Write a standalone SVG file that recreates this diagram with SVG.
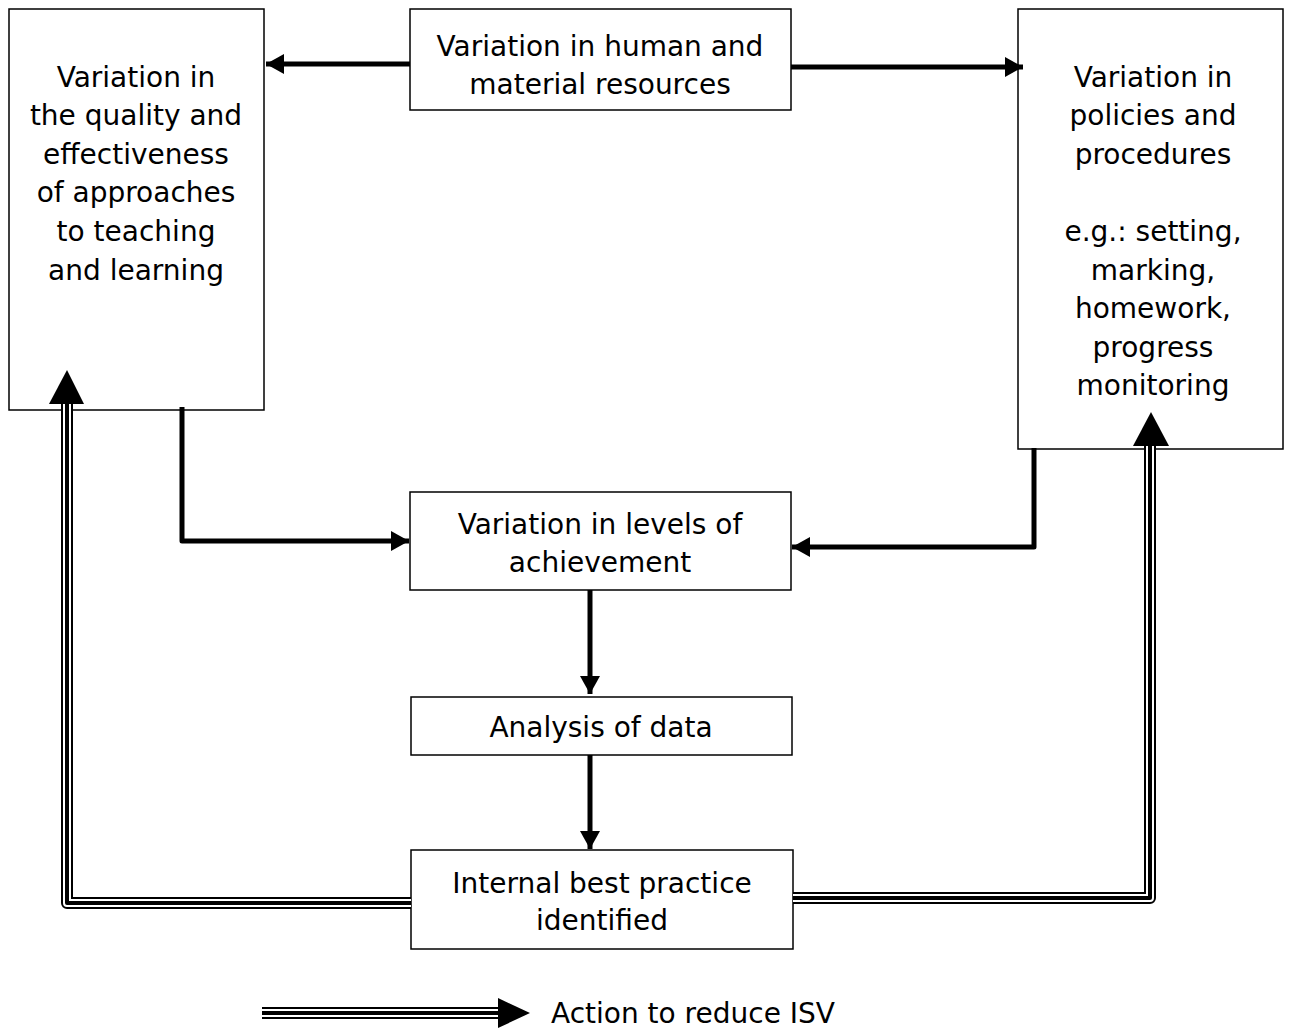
<svg xmlns="http://www.w3.org/2000/svg" width="1290" height="1029" viewBox="0 0 1290 1029">
<defs>
<style>
.box{fill:#fff;stroke:#000;stroke-width:1.5}
.t{font-family:"DejaVu Sans",Verdana,sans-serif;font-size:28px;fill:#000;text-anchor:middle}
.c{fill:none;stroke:#000;stroke-width:5;stroke-linejoin:round}
.tb{fill:none;stroke:#000;stroke-width:12;stroke-linejoin:round}
.tw{fill:none;stroke:#fff;stroke-width:8;stroke-linejoin:round}
.tc{fill:none;stroke:#000;stroke-width:4;stroke-linejoin:round}
</style>
<marker id="ah" markerUnits="userSpaceOnUse" markerWidth="20" markerHeight="20" refX="18" refY="10" orient="auto">
<path d="M0,0 L18,10 L0,20 Z" fill="#000"/>
</marker>
</defs>
<g id="n-left"><rect class="box" x="9" y="9" width="255" height="401"/>
<text class="t" x="136" y="87">Variation in</text>
<text class="t" x="136" y="125">the quality and</text>
<text class="t" x="136" y="164">effectiveness</text>
<text class="t" x="136" y="202">of approaches</text>
<text class="t" x="136" y="241">to teaching</text>
<text class="t" x="136" y="280">and learning</text></g>
<g id="n-top"><rect class="box" x="410" y="9" width="381" height="101"/>
<text class="t" x="600" y="56">Variation in human and</text>
<text class="t" x="600" y="94">material resources</text></g>
<g id="n-right"><rect class="box" x="1018" y="9" width="265" height="440"/>
<text class="t" x="1153" y="87">Variation in</text>
<text class="t" x="1153" y="125">policies and</text>
<text class="t" x="1153" y="164">procedures</text>
<text class="t" x="1153" y="241">e.g.: setting,</text>
<text class="t" x="1153" y="280">marking,</text>
<text class="t" x="1153" y="318">homework,</text>
<text class="t" x="1153" y="357">progress</text>
<text class="t" x="1153" y="395">monitoring</text></g>
<g id="n-mid"><rect class="box" x="410" y="492" width="381" height="98"/>
<text class="t" x="600" y="534">Variation in levels of</text>
<text class="t" x="600" y="572">achievement</text></g>
<g id="n-analysis"><rect class="box" x="411" y="697" width="381" height="58"/>
<text class="t" x="601" y="737">Analysis of data</text></g>
<g id="n-internal"><rect class="box" x="411" y="850" width="382" height="99"/>
<text class="t" x="602" y="893">Internal best practice</text>
<text class="t" x="602" y="930">identified</text></g>
<g id="connectors">
<path class="c" d="M410,64 L266,64" marker-end="url(#ah)"/>
<path class="c" d="M791,67 L1023,67" marker-end="url(#ah)"/>
<path class="c" d="M182,407 L182,541 L409,541" marker-end="url(#ah)"/>
<path class="c" d="M1034,448 L1034,547 L792,547" marker-end="url(#ah)"/>
<path class="c" d="M590,590 L590,694" marker-end="url(#ah)"/>
<path class="c" d="M590,755 L590,849" marker-end="url(#ah)"/>
<g id="dbl-left">
<path class="tb" d="M411,903 L67,903 L67,400"/>
<path class="tw" d="M411,903 L67,903 L67,400"/>
<path class="tc" d="M411,903 L67,903 L67,400"/>
<path d="M67,370 L84,404 L49,404 Z" fill="#000"/>
</g>
<g id="dbl-right">
<path class="tb" d="M793,898 L1150,898 L1150,444"/>
<path class="tw" d="M793,898 L1150,898 L1150,444"/>
<path class="tc" d="M793,898 L1150,898 L1150,444"/>
<path d="M1151,412 L1169,446 L1133,446 Z" fill="#000"/>
</g>
</g>
<g id="legend">
<path class="tb" d="M262,1013 L502,1013"/>
<path class="tw" d="M262,1013 L502,1013"/>
<path class="tc" d="M262,1013 L502,1013"/>
<path d="M498,998 L530,1013 L498,1028 Z" fill="#000"/>
<text class="t" x="551" y="1023" style="text-anchor:start">Action to reduce ISV</text>
</g>
</svg>
